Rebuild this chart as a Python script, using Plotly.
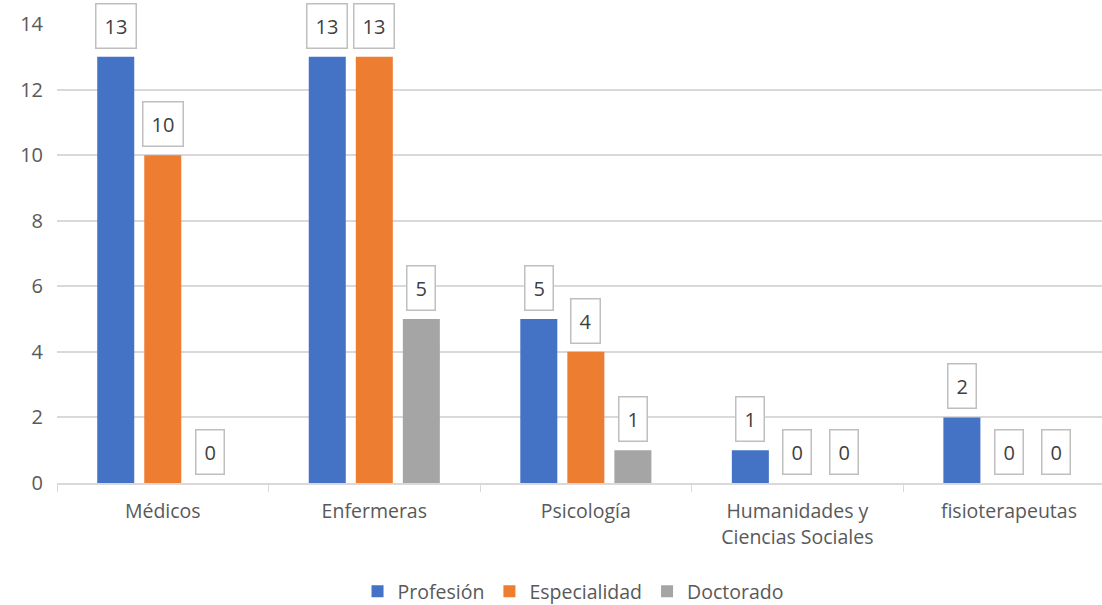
import plotly.graph_objects as go

categories = ["Médicos", "Enfermeras", "Psicología", "Humanidades y<br>Ciencias Sociales", "fisioterapeutas"]
series_names = ["Profesión", "Especialidad", "Doctorado"]
profesion = [13, 13, 5, 1, 2]
especialidad = [10, 13, 4, 0, 0]
doctorado = [0, 5, 1, 0, 0]
y_ticks = [0, 2, 4, 6, 8, 10, 12, 14]

colors = ["#4472C4", "#ED7D31", "#A5A5A5"]
values = [profesion, especialidad, doctorado]

FONT = "'Open Sans', sans-serif"
TXT = "#595959"

fig = go.Figure()
for name, vals, col in zip(series_names, values, colors):
    fig.add_trace(go.Bar(x=categories, y=vals, name=name, marker_color=col,
                         marker_line_width=0))

# boxed value labels above each bar
slot = 47  # px between bar centres within a group
for i, vals in enumerate(values):
    shift = (i - 1) * slot
    for cat, v in zip(categories, vals):
        fig.add_annotation(x=cat, y=v, text=str(v), showarrow=False,
                           xshift=shift, yshift=8, yanchor="bottom",
                           font=dict(family=FONT, size=20, color="#404040"),
                           bgcolor="white", bordercolor="#BFBFBF", borderwidth=1.5,
                           borderpad=8)

fig.update_layout(
    width=1102, height=605,
    margin=dict(l=57, r=0, t=24, b=122, autoexpand=False),
    plot_bgcolor="white", paper_bgcolor="white",
    barmode="group", bargap=0.333, bargroupgap=0.213,
    font=dict(family=FONT, size=19, color=TXT),
    legend=dict(orientation="h", x=0.52, xanchor="center", xref="container",
                y=0.022, yanchor="middle", yref="container",
                font=dict(size=19.5, color=TXT), traceorder="normal"),
    xaxis=dict(range=[-0.5, 4.44], showgrid=False, showline=True, linecolor="#D9D9D9",
               linewidth=1.5, ticks="outside", tickson="boundaries", ticklen=7,
               tickcolor="#D9D9D9", ticklabelstandoff=10,
               tickfont=dict(size=19.5, color=TXT)),
    yaxis=dict(range=[0, 14], tickvals=y_ticks, showgrid=True, gridcolor="#D9D9D9",
               gridwidth=1.5, zeroline=False, showline=False, ticks="",
               ticklabelstandoff=13, tickfont=dict(size=20, color=TXT)),
)

fig.write_html("out.html")
